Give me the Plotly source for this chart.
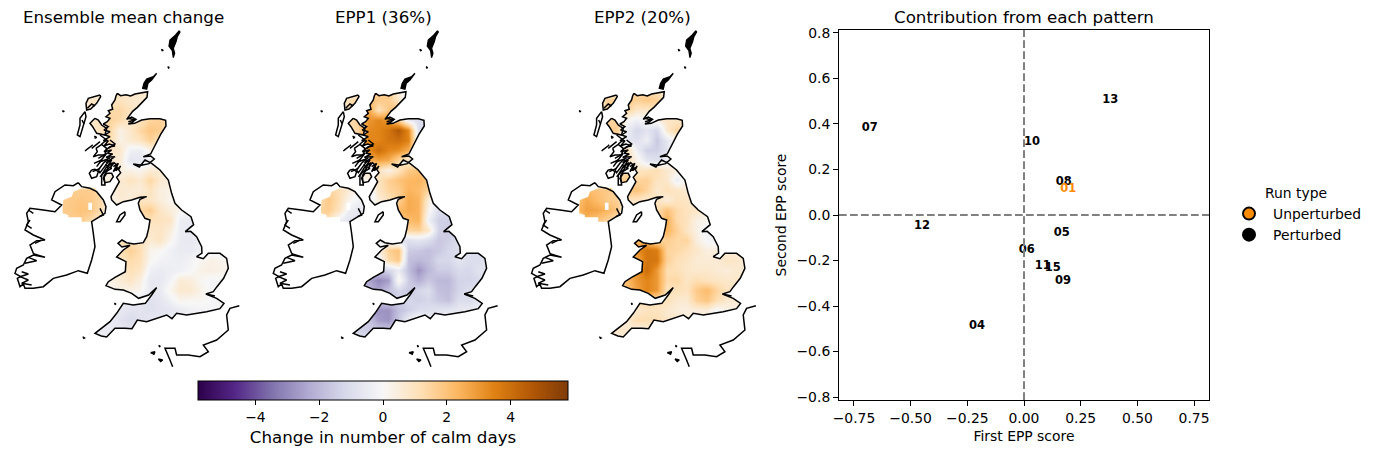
import plotly.graph_objects as go

# ---------- map data (units: arbitrary map units, y grows southward) ----------
grid_x = [180, 210, 240, 270, 300, 330, 360, 390, 420, 450, 480, 510, 540, 570, 600, 630, 660, 690]
grid_y = [210, 240, 270, 300, 330, 360, 390, 420, 450, 480, 510, 540, 570, 600, 630, 660, 690, 720, 750, 780, 810, 840, 870, 900, 930, 960]

mean_change = [
 [0,0,0,0,0,.8,.8,.8,.8,.7,0,0,0,0,0,0,0,0],
 [0,0,0,.9,.9,1,1,.8,.7,.5,0,0,0,0,0,0,0,0],
 [0,0,0,.9,1.2,1.3,1.4,1,.6,.5,.5,0,0,0,0,0,0,0],
 [0,0,0,.8,1,1.5,1.3,.8,1,1.5,1.6,1.2,0,0,0,0,0,0],
 [0,0,0,.8,1,1.4,.3,.8,1.4,1.9,1.7,1,0,0,0,0,0,0],
 [0,0,0,0,1,1.2,.3,.7,1,1.6,1,.8,0,0,0,0,0,0],
 [0,0,0,0,.8,.9,.8,-.3,-.4,.3,.3,.2,0,0,0,0,0,0],
 [0,0,0,0,.6,.7,.6,-.7,-.6,-.3,-.2,0,0,0,0,0,0,0],
 [0,0,0,0,.5,.4,.4,.3,.2,.6,.6,.5,.3,0,0,0,0,0],
 [0,0,0,0,.3,.5,.6,1,.7,1.4,.7,.5,.3,0,0,0,0,0],
 [1.5,1.6,1.7,1.7,1.3,.3,.7,.6,.5,1,.4,.3,.2,.1,0,0,0,0],
 [1.6,1.8,1.9,1.8,1.4,.3,.6,.5,1,.9,.5,.2,.1,0,0,0,0,0],
 [1.8,1.8,2,1.9,1.3,0,.6,1,1.4,1.7,.9,.5,.2,-.1,-.2,0,0,0],
 [1.6,1.7,1.8,1.3,.8,0,.6,1,1,1.1,1,.9,-.4,-.5,-.4,-.3,0,0],
 [1.5,1.6,1.6,1.2,.7,0,.7,1,1,.8,.9,.5,-.4,-.6,-.5,-.4,0,0],
 [0,0,0,0,0,.8,1,1,1,.7,.9,.2,-.5,-.6,-.4,-.3,-.3,0],
 [0,0,0,0,0,.9,1.2,1.6,1.2,.2,.1,-.3,-.5,-.5,-.3,-.3,-.3,-.2],
 [0,0,0,0,0,.6,.8,1.3,1.1,.1,-.2,-.3,-.4,-.2,.1,.3,.2,0],
 [0,0,0,0,.3,.4,.6,1.1,.9,-.3,-.5,-.4,-.3,-.1,.3,.4,.3,.2],
 [0,0,0,0,.2,.3,.6,.9,.4,-.6,-.6,-.2,.6,.5,.1,-.1,-.1,-.1],
 [0,0,0,0,.1,.1,.3,.3,.2,-.6,-.5,.2,.7,.7,.3,-.1,-.2,-.2],
 [0,0,0,0,0,-.4,-.4,-.5,-.6,-.9,-.7,-.3,.2,.1,.1,-.1,-.2,-.1],
 [0,0,0,0,-.4,-.5,-.6,-.8,-.8,-.9,-.8,-.7,-.5,-.3,-.2,-.1,0,0],
 [0,0,0,-.3,-.4,-.5,-.8,-1.1,-.9,-.7,-.5,-.3,-.2,-.2,-.1,0,0,0],
 [0,0,0,-.3,-.4,-.6,-.6,-.7,-.4,-.3,-.2,0,0,0,0,0,0,0],
 [0,0,0,-.3,-.3,-.4,-.4,-.4,-.2,0,0,0,0,0,0,0,0,0],
]

epp1 = [
 [0,0,0,0,0,1.5,1.5,2,.3,-.3,0,0,0,0,0,0,0,0],
 [0,0,0,1.2,1.5,2,1.8,1.7,.9,-.5,0,0,0,0,0,0,0,0],
 [0,0,0,1.2,1.6,2.8,1,1.9,2,.5,0,0,0,0,0,0,0,0],
 [0,0,0,1.2,1.5,3,3.4,3,1.5,-.4,-1,-1,0,0,0,0,0,0],
 [0,0,0,1.2,1.5,3.3,3.4,3.8,4.6,3.3,-1,-1,0,0,0,0,0,0],
 [0,0,0,0,2,3.4,3.4,3.8,4,3.5,-.6,-.6,0,0,0,0,0,0],
 [0,0,0,0,2,3.2,4,3.4,3.2,2.5,-.3,-.3,0,0,0,0,0,0],
 [0,0,0,0,1.5,2.5,2.8,2.6,1.5,.5,.3,0,0,0,0,0,0,0],
 [0,0,0,0,1,1,1,.3,1,1.8,2,1.8,1,0,0,0,0,0],
 [0,0,0,0,-.3,.3,1,1.6,2,2.3,2.4,2,1,0,0,0,0,0],
 [1,1.5,1.2,.6,0,-.7,.9,1.5,1.7,2.4,2.2,1.5,.3,0,0,0,0,0],
 [1.2,1.8,1.2,.2,-.2,-.5,.5,1,1.6,2.6,2.4,.5,-.5,-.5,0,0,0,0],
 [1.4,1.7,1,-.3,-.7,0,.5,1.2,2.2,2.6,2.4,.2,-1,-1,-1,0,0,0],
 [1.5,1,-.3,-.8,-.7,0,.5,1.2,2,2.2,2.4,-.3,-1.4,-1.4,-1,-1,0,0],
 [1.5,1,-.3,-.8,-.7,0,-.3,-.3,.5,1.5,1.6,.8,-1.3,-1.6,-1.2,-1,0,0],
 [0,0,0,0,0,-.3,-.5,-.5,-1,-.9,-.7,-1,-1.6,-1.4,-1,-1,-1,0],
 [0,0,0,0,0,.2,.3,1.6,2,-1.5,-1.6,-1.8,-1.6,-1.2,-1,-1,-1,-.8],
 [0,0,0,0,0,-.3,-.3,1.3,1.8,-1.8,-2,-1.8,-1.2,-1.2,-.7,-1,-1,-.6],
 [0,0,0,0,-1,-1,-1.4,-1.2,-.5,-1.8,-2.8,-2,-1.5,-1.5,-1.1,-1.2,-.8,-.8],
 [0,0,0,0,-2.4,-2.4,-3,-2.6,.3,-1.5,-2.2,-1.6,-2,-2,-1.3,-1.3,-1.1,-1],
 [0,0,0,0,-2,-2,-2.5,-1.8,-1.2,-1.6,-1.2,-1,-1.8,-1.9,-1.3,-1,-1,-1],
 [0,0,0,0,-1.5,-1.5,-1.5,-1.5,-1.5,-1.2,-1.4,-1.2,-1.6,-1.8,-1,-1.1,-.7,-.6],
 [0,0,0,-1.5,-2,-2.5,-2.8,-2.8,-1.8,-1.4,-1,-1,-.8,-.7,-.6,-.5,-.3,0],
 [0,0,0,-1.3,-1.5,-1.6,-2.6,-2.8,-1.6,-.4,.4,-.3,-.2,-.2,0,0,0,0],
 [0,0,0,-1.3,-1.3,-1.5,-1.5,-1.6,-1,-.5,0,0,0,0,0,0,0,0],
 [0,0,0,-1,-1,-1,-1,-1,-.5,0,0,0,0,0,0,0,0,0],
]

epp2 = [
 [0,0,0,0,0,1.5,1.5,1.3,1,.8,0,0,0,0,0,0,0,0],
 [0,0,0,1.6,1.7,1.8,1.6,1.8,1.6,.8,0,0,0,0,0,0,0,0],
 [0,0,0,1.6,1.7,1.5,.8,.8,1.2,.8,0,0,0,0,0,0,0,0],
 [0,0,0,1.5,1.5,.1,-.3,.2,.3,.9,.9,.8,0,0,0,0,0,0],
 [0,0,0,1.6,1.7,-.4,-1.2,-.8,-1.2,.7,1.5,1,0,0,0,0,0,0],
 [0,0,0,0,1.5,-.6,-.9,-.3,-1.6,-.6,.2,.2,0,0,0,0,0,0],
 [0,0,0,0,1.5,1.3,-.3,-1.4,-1.4,-.8,.1,.1,0,0,0,0,0,0],
 [0,0,0,0,1.2,1,.3,-.7,-.9,-.3,0,0,0,0,0,0,0,0],
 [0,0,0,0,1.2,1.2,.9,1,1.2,.7,.4,.3,.3,0,0,0,0,0],
 [0,0,0,0,1.5,1.8,1.5,1.6,1,.8,-.4,.2,.3,0,0,0,0,0],
 [1.8,2.2,2,1.8,1.5,1.8,2,1.5,.7,1.1,.9,.6,.5,.3,0,0,0,0],
 [2,2.6,2.2,1.8,1.6,1,.9,.7,1,.5,1,.9,.5,.3,0,0,0,0],
 [2.2,2.8,2.7,2.4,1.9,0,.8,1,1.2,2,1.3,1,.9,.4,.1,0,0,0],
 [2,2.3,2,1.6,1,0,.8,1,1,2.5,1.3,1,.3,.2,-.1,-.2,0,0],
 [2,2.2,2,1.5,1,0,1,1.2,1.2,2.4,1.6,.9,.3,-.2,-.4,-.3,0,0],
 [0,0,0,0,0,2,2.2,2,1.2,1.7,1.4,1.5,.4,-.1,-.3,-.2,.2,0],
 [0,0,0,0,0,3,3.2,3.8,3.6,1.5,1.4,1.1,.8,.4,.5,.6,.5,.5],
 [0,0,0,0,0,2.4,2.6,3.8,3.8,1.6,1.1,.9,.6,.6,.6,.9,.8,.5],
 [0,0,0,0,2,2,3,4,3,1.2,1.1,.8,.7,.8,.6,.5,.7,.6],
 [0,0,0,0,2.2,2.2,3,3.4,3,1.3,1.4,.9,1.2,1,.9,.8,.8,.7],
 [0,0,0,0,2,2,2.8,3.4,3,1,1.1,1,1.8,2.2,1.5,1,.9,.8],
 [0,0,0,0,1,1.2,1.2,1.2,1.1,1.1,.7,.7,1.6,1.9,1.2,.7,.7,.6],
 [0,0,0,.6,.6,.7,.7,1,1,.7,.5,.4,.5,.5,-.1,.3,.3,.2],
 [0,0,0,.7,.8,.6,1.3,1.2,1.2,.8,.9,.5,.3,.3,.2,0,0,0],
 [0,0,0,.8,.8,.8,.2,.5,.5,.5,.3,0,0,0,0,0,0,0],
 [0,0,0,.5,.5,.5,.4,.4,.4,0,0,0,0,0,0,0,0,0],
]

britain = [(352,220),(362,227),(378,224),(392,228),(405,222),(425,218),(443,215),(441,232),(428,246),(412,262),(398,274),(388,288),(380,298),(395,291),(408,298),(396,307),(385,312),(404,310),(425,300),(450,296),(480,296),(497,301),(498,318),(482,343),(471,365),(458,388),(452,402),(430,410),(452,408),(463,417),(447,431),(425,436),(400,432),(418,441),(435,420),(455,430),(480,450),(505,480),(515,520),(525,550),(545,570),(573,590),(581,614),(556,635),(572,634),(590,650),(605,680),(606,699),(590,710),(610,716),(625,700),(660,700),(680,715),(685,745),(671,775),(651,800),(640,815),(618,822),(650,835),(672,850),(660,866),(620,875),(590,881),(560,885),(530,880),(516,896),(500,885),(470,895),(440,905),(412,900),(396,926),(375,925),(345,925),(320,951),(304,948),(285,940),(304,926),(330,905),(350,880),(370,850),(400,855),(436,850),(455,825),(470,803),(446,825),(416,835),(395,820),(370,810),(345,808),(318,797),(325,785),(345,772),(376,755),(378,725),(350,711),(370,690),(390,676),(366,681),(354,670),(366,660),(380,668),(402,672),(430,668),(440,650),(446,625),(450,600),(435,595),(420,570),(415,550),(420,538),(440,530),(420,532),(395,540),(370,545),(350,555),(335,540),(333,530),(345,510),(352,495),(358,485),(350,472),(362,458),(355,448),(362,438),(348,452),(352,440),(340,455),(350,435),(342,428),(330,446),(338,428),(322,440),(335,420),(318,428),(345,410),(318,412),(338,402),(322,400),(335,390),(312,395),(330,380),(345,378),(328,372),(312,378),(325,362),(310,362),(330,350),(315,345),(330,335),(312,330),(325,320),(310,312),(322,305),(330,295),(318,290),(330,280),(325,272),(338,268),(335,255),(345,240),(348,228),(352,220)]
ireland = [(235,488),(245,500),(270,505),(290,515),(310,540),(318,560),(315,580),(295,592),(275,605),(280,640),(285,680),(275,720),(262,760),(235,752),(200,765),(160,775),(130,800),(100,805),(75,805),(70,792),(60,800),(52,775),(62,770),(45,760),(50,745),(70,735),(80,715),(100,705),(135,712),(105,703),(100,700),(90,675),(110,662),(135,660),(100,645),(75,630),(85,605),(80,580),(90,565),(130,570),(165,575),(185,555),(155,540),(165,515),(195,495),(220,497),(235,488)]
man = [(375,575),(360,585),(350,605),(360,605),(375,585),(375,575)]
lewis = [(300,225),(285,230),(265,235),(258,250),(260,270),(272,267),(290,250),(302,230),(300,225)]
uist = [(255,275),(240,295),(240,315),(232,345),(240,350),(250,320),(258,290),(255,275)]
skye = [(285,295),(270,310),(278,320),(290,340),(315,345),(320,325),(305,315),(295,300),(285,295)]
tiree = [(255,393),(278,375),(258,390)]
mull = [(288,385),(305,373),(320,385),(315,405),(295,405),(280,410),(292,395),(288,385)]
islay = [(275,450),(268,460),(275,475),(290,470),(295,455),(285,448),(275,450)]
jura = [(295,450),(310,430),(322,418),(325,425),(310,445),(300,458),(295,450)]
kintyre = [(320,440),(305,465),(305,495),(315,495),(312,468),(325,445),(320,440)]
arran = [(320,460),(310,475),(315,488),(330,485),(340,470),(335,460),(320,460)]
france = [(718,857),(690,865),(680,885),(685,930),(650,960),(610,975),(625,995),(600,1010),(565,1005),(530,1005),(525,985),(495,985),(510,1020),(518,1040)]
inlets = [[(300,345),(320,360),(305,372)],[(275,385),(300,365)],[(295,415),(320,400),(300,425),(330,415)],[(282,430),(305,420),(290,440)],[(315,435),(335,445),(318,455)],[(330,360),(345,372),(325,385)],[(278,455),(300,445)],[(300,470),(325,445)],[(340,440),(355,430),(345,450),(360,445)],[(65,755),(85,762),(60,770),(85,780),(65,790),(95,795)],[(75,730),(110,722),(85,712)],[(90,600),(80,615),(95,625)],[(85,570),(100,580)],[(125,660),(105,670)],[(300,565),(310,585),(298,590)],[(385,295),(405,300),(385,305)],[(618,822),(645,828)],[(262,265),(275,252),(285,258)],[(246,300),(252,312)]]
shetland = [(538,32),(527,45),(510,60),(507,78),(517,92),(520,113),(524,100),(520,85),(528,65),(532,50),(540,36),(538,32)]
orkney = [(470,160),(460,170),(440,177),(432,190),(428,205),(440,208),(444,190),(455,180),(470,160)]
islets = [[(452,998),(465,995),(462,1003),(452,998)],[(475,1017),(488,1020),(482,1025),(475,1017)],[(476,976),(481,979),(477,981)],[(248,950),(254,954),(250,956)],[(187,272),(193,274),(188,276)],[(343,849),(348,852),(344,854)],[(503,140),(508,143),(504,145)],[(484,88),(490,91),(485,93)],[(283,348),(290,352),(284,355)]]
ni_region = [(190,540),(215,530),(220,515),(245,505),(285,503),(300,530),(318,560),(305,590),(275,605),(245,605),(245,592),(205,592),(205,585),(188,580),(188,562),(190,540)]
lough = [(265,548),(276,548),(276,570),(265,570),(265,548)]
sea_frame = [(160,190),(715,190),(715,985),(160,985),(160,190)]

# ---------- scatter data ----------
pattern_run = ["13", "07", "10", "08", "12", "05", "06", "11", "15", "09", "04"]
first_score = [0.38, -0.68, 0.035, 0.175, -0.45, 0.167, 0.012, 0.083, 0.127, 0.172, -0.207]
second_score = [0.505, 0.381, 0.32, 0.145, -0.05, -0.08, -0.155, -0.225, -0.235, -0.292, -0.49]
base_run = ["01"]
base_first = [0.195]
base_second = [0.115]

panel_titles = ["Ensemble mean change", "EPP1 (36%)", "EPP2 (20%)"]
panel_fields = [mean_change, epp1, epp2]
colorbar_ticks = [-4, -2, 0, 2, 4]
COLORS = ["#2d004b", "#542788", "#8073ac", "#b2abd2", "#d8daeb", "#f7f7f7", "#fee0b6", "#fdb863", "#e08214", "#b35806", "#7f3b08"]

W, H = 1376, 454
FONT = "DejaVu Sans"


def signed_area(poly):
    return sum(a[0] * b[1] - b[0] * a[1] for a, b in zip(poly, poly[1:]))


def oriented(poly, sign):
    return poly if signed_area(poly) * sign > 0 else poly[::-1]


def joined(polys):
    xs, ys = [], []
    for poly in polys:
        xs += [p[0] for p in poly] + [None]
        ys += [p[1] for p in poly] + [None]
    return xs, ys


holes = [britain, ni_region, skye, lewis, arran]
mask_polys = [oriented(sea_frame, 1)] + [oriented(h, -1) for h in holes] + [oriented(lough, 1)]
mask_x, mask_y = joined(mask_polys)
coast_x, coast_y = joined([britain, ireland, man, lewis, uist, skye, tiree, mull, islay, jura, kintyre, arran, france] + inlets)
blob_x, blob_y = joined([shetland, orkney] + islets)

fig = go.Figure()
PANEL_W = 258.3
for i, (field, title) in enumerate(zip(panel_fields, panel_titles)):
    n = "" if i == 0 else str(i + 1)
    xa, ya = "x" + n, "y" + n
    fig.add_trace(go.Heatmap(x=grid_x, y=grid_y, z=field, coloraxis="coloraxis", zsmooth="best",
                             xaxis=xa, yaxis=ya, hoverinfo="skip"))
    fig.add_trace(go.Scatter(x=mask_x, y=mask_y, mode="none", fill="toself", fillcolor="white",
                             xaxis=xa, yaxis=ya, showlegend=False, hoverinfo="skip"))
    fig.add_trace(go.Scatter(x=coast_x, y=coast_y, mode="lines", line=dict(color="black", width=1.5),
                             xaxis=xa, yaxis=ya, showlegend=False, hoverinfo="skip"))
    fig.add_trace(go.Scatter(x=blob_x, y=blob_y, mode="lines", fill="toself", fillcolor="black",
                             line=dict(color="black", width=1.3),
                             xaxis=xa, yaxis=ya, showlegend=False, hoverinfo="skip"))
    left = i * PANEL_W
    fig.update_layout({
        "xaxis" + n: dict(domain=[left / W, (left + PANEL_W) / W], range=[0, 775], visible=False),
        "yaxis" + n: dict(domain=[1 - 370 / H, 1 - 20 / H], range=[1050, 0], visible=False),
    })
    fig.add_annotation(text=title, xref="paper", yref="paper", x=(124 + i * 259) / W, y=1 - 17 / H,
                       showarrow=False, xanchor="center", yanchor="middle",
                       font=dict(family=FONT, size=16.7, color="black"))

# scatter panel
fig.add_trace(go.Scatter(x=first_score, y=second_score, text=pattern_run, mode="text",
                         textfont=dict(family=FONT, size=11.5, color="black", weight="bold"),
                         xaxis="x4", yaxis="y4", showlegend=False))
fig.add_trace(go.Scatter(x=base_first, y=base_second, text=base_run, mode="text",
                         textfont=dict(family=FONT, size=11.5, color="#ff8c00", weight="bold"),
                         xaxis="x4", yaxis="y4", showlegend=False))
fig.add_trace(go.Scatter(x=[None], y=[None], mode="markers", name="Unperturbed",
                         marker=dict(color="#ff8c00", size=8, line=dict(color="black", width=1)),
                         xaxis="x4", yaxis="y4"))
fig.add_trace(go.Scatter(x=[None], y=[None], mode="markers", name="Perturbed",
                         marker=dict(color="black", size=8, line=dict(color="black", width=1)),
                         xaxis="x4", yaxis="y4"))

axis_common = dict(showgrid=False, zeroline=False, showline=True, linecolor="black", linewidth=1, mirror=True,
                   ticks="outside", ticklen=5, tickcolor="black", tickwidth=1,
                   tickfont=dict(family=FONT, size=13.9, color="black"))
fig.update_layout(
    xaxis4=dict(domain=[839 / W, 1209 / W], range=[-0.816, 0.816], tickvals=[-0.75, -0.5, -0.25, 0, 0.25, 0.5, 0.75],
                tickformat=".2f", anchor="y4",
                title=dict(text="First EPP score", font=dict(family=FONT, size=13.9, color="black"), standoff=6),
                **axis_common),
    yaxis4=dict(domain=[1 - 400 / H, 1 - 30 / H], range=[-0.813, 0.813], tickvals=[-0.8, -0.6, -0.4, -0.2, 0, 0.2, 0.4, 0.6, 0.8],
                tickformat=".1f", anchor="x4",
                title=dict(text="Second EPP score", font=dict(family=FONT, size=13.9, color="black"), standoff=6),
                **axis_common),
)
dash_line = dict(color="gray", width=2, dash="7.7px,3.3px")
fig.add_shape(type="line", xref="x4", yref="y4 domain", x0=0, x1=0, y0=0, y1=1, line=dash_line)
fig.add_shape(type="line", xref="x4 domain", yref="y4", x0=0, x1=1, y0=0, y1=0, line=dash_line)
fig.add_annotation(text="Contribution from each pattern", xref="paper", yref="paper", x=1024 / W, y=1 - 17 / H,
                   showarrow=False, xanchor="center", yanchor="middle",
                   font=dict(family=FONT, size=16.7, color="black"))

fig.update_layout(
    width=W, height=H, margin=dict(l=0, r=0, t=0, b=0, autoexpand=False),
    paper_bgcolor="white", plot_bgcolor="white",
    font=dict(family=FONT, color="black"),
    coloraxis=dict(cmin=-5.8, cmax=5.8,
                   colorscale=[[k / 10, c] for k, c in enumerate(COLORS)],
                   colorbar=dict(orientation="h", x=198 / W, xanchor="left", y=1 - 381 / H, yanchor="top",
                                 lenmode="pixels", len=370, thicknessmode="pixels", thickness=19,
                                 xpad=0, ypad=0, outlinecolor="black", outlinewidth=1,
                                 tickvals=colorbar_ticks, ticks="outside", ticklen=5, tickcolor="black",
                                 tickfont=dict(family=FONT, size=13.9, color="black"),
                                 title=dict(text="Change in number of calm days", side="bottom",
                                            font=dict(family=FONT, size=16.7, color="black")))),
    legend=dict(x=1225 / W, xanchor="left", y=1 - 180 / H, yanchor="top", bgcolor="rgba(0,0,0,0)",
                font=dict(family=FONT, size=13.9, color="black"),
                title=dict(text="Run type", side="top center", font=dict(family=FONT, size=13.9, color="black")),
                itemsizing="constant", itemwidth=38),
)

fig.write_html("out.html", config={"displayModeBar": False},
               post_script="document.body.style.margin='0';document.documentElement.style.overflow='hidden';")
